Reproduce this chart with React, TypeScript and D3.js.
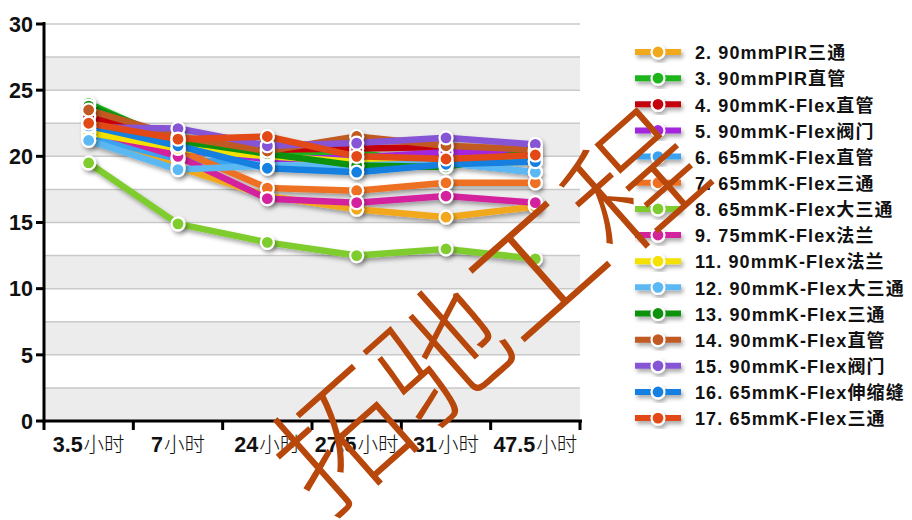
import React from "react";
import * as d3 from "d3";

const categories = ["3.5", "7", "24", "27.5", "31", "47.5"];
const seriesNames = [
  "2. 90mmPIR三通",
  "3. 90mmPIR直管",
  "4. 90mmK-Flex直管",
  "5. 90mmK-Flex阀门",
  "6. 65mmK-Flex直管",
  "7. 65mmK-Flex三通",
  "8. 65mmK-Flex大三通",
  "9. 75mmK-Flex法兰",
  "11. 90mmK-Flex法兰",
  "12. 90mmK-Flex大三通",
  "13. 90mmK-Flex三通",
  "14. 90mmK-Flex直管",
  "15. 90mmK-Flex阀门",
  "16. 65mmK-Flex伸缩缝",
  "17. 65mmK-Flex三通",
];
const seriesColors = [
  "#f2a81d", "#1fb51f", "#c4000e", "#a326de", "#3aa2f0",
  "#ee7020", "#7fcc2e", "#d4229e", "#f5e100", "#5cb8f2",
  "#119211", "#c05a20", "#8654d6", "#1380e0", "#e24a12",
];
const seriesValues: number[][] = [
  [21.5, 19.2, 17.0, 16.0, 15.4, 16.2],
  [24.0, 21.0, 20.0, 20.3, 19.3, 20.0],
  [23.0, 21.3, 20.5, 20.6, 20.7, 20.3],
  [22.0, 20.5, 19.8, 19.9, 20.3, 20.4],
  [21.5, 19.8, 19.3, 19.2, 19.5, 18.8],
  [22.5, 20.5, 17.6, 17.4, 18.0, 18.0],
  [19.5, 14.9, 13.5, 12.5, 13.0, 12.25],
  [22.0, 20.0, 16.8, 16.5, 17.0, 16.5],
  [21.8, 20.6, 20.0, 19.6, 19.5, 19.6],
  [21.2, 19.0, 19.3, 19.3, 19.5, 18.8],
  [23.8, 21.2, 20.2, 19.3, 19.2, 20.4],
  [23.5, 21.5, 20.4, 21.5, 20.8, 20.5],
  [22.2, 22.1, 20.8, 21.0, 21.4, 20.9],
  [22.3, 20.8, 19.1, 18.8, 19.4, 19.6],
  [22.5, 21.3, 21.5, 20.0, 19.8, 20.1],
];
const yTicks = [0, 5, 10, 15, 20, 25, 30];
const gridValues = [2.5, 5, 7.5, 10, 12.5, 15, 17.5, 20, 22.5, 25, 27.5, 30];
const xUnit = "小时";
const watermark = "拓驰工程";

const W = 912;
const H = 520;
const left = 44;
const right = 580;
const top = 24;
const bottom = 421;

const FONT = "'Liberation Sans', Arial, 'Noto Sans CJK SC', sans-serif";
const CJK = "'Noto Sans CJK SC', sans-serif";

export default function App() {
  const x = d3.scaleBand<string>().domain(categories).range([left, right]).paddingInner(0).paddingOuter(0);
  const y = d3.scaleLinear().domain([0, 30]).range([bottom, top]);
  const cx = (c: string) => (x(c) as number) + x.bandwidth() / 2;
  const line = d3
    .line<number>()
    .x((_, i) => cx(categories[i]))
    .y((v) => y(v));

  const bands: { y0: number; y1: number }[] = [];
  for (let v = 0; v < 30; v += 5) {
    bands.push({ y0: y(v + 2.5), y1: y(v) });
  }

  const legendX = 635;
  const legendY0 = 52;
  const legendDy = 26.15;

  return (
    <svg width={W} height={H} style={{ position: "absolute", left: 0, top: 0, background: "#fff" }}>
      <defs>
        <filter id="sh" x="-10%" y="-10%" width="130%" height="140%">
          <feDropShadow dx="2" dy="3" stdDeviation="2" floodColor="#000" floodOpacity="0.35" />
        </filter>
      </defs>
      <rect x={0} y={0} width={W} height={H} fill="#fff" />
      {bands.map((b, i) => (
        <rect key={i} x={left} y={b.y0} width={right - left} height={b.y1 - b.y0} fill="#ececec" />
      ))}
      {gridValues.map((v) => (
        <line key={v} x1={left} x2={right} y1={y(v)} y2={y(v)} stroke="#c9c9c9" strokeWidth={1.5} />
      ))}

      {/* lines */}
      <g filter="url(#sh)">
        {seriesValues.map((vals, si) => (
          <path
            key={si}
            d={line(vals) as string}
            fill="none"
            stroke={seriesColors[si]}
            strokeWidth={6.5}
            strokeLinejoin="round"
            strokeLinecap="round"
          />
        ))}
      </g>
      <g filter="url(#sh)">
        {seriesValues.map((vals, si) =>
          vals.map((v, i) => (
            <circle
              key={si + "-" + i}
              cx={cx(categories[i])}
              cy={y(v)}
              r={6.5}
              fill={seriesColors[si]}
              stroke="#fff"
              strokeWidth={2.2}
            />
          ))
        )}
      </g>

      {/* axes */}
      <line x1={left} x2={left} y1={top - 2} y2={bottom + 1.5} stroke="#000" strokeWidth={3} />
      <line x1={left - 1.5} x2={right + 2} y1={bottom} y2={bottom} stroke="#000" strokeWidth={3} />
      {yTicks.map((t) => (
        <g key={t}>
          <line x1={left - 8} x2={left} y1={y(t)} y2={y(t)} stroke="#000" strokeWidth={3} />
          <text
            x={left - 11}
            y={y(t)}
            dy="0.36em"
            textAnchor="end"
            fontFamily={FONT}
            fontWeight="bold"
            fontSize={21.5}
            fill="#111"
          >
            {t}
          </text>
        </g>
      ))}
      {d3.range(categories.length + 1).map((i) => {
        const xx = left + i * x.bandwidth();
        return <line key={i} x1={xx} x2={xx} y1={bottom} y2={bottom + 9} stroke="#000" strokeWidth={3} />;
      })}
      {categories.map((c) => (
        <text key={c} x={cx(c)} y={452} textAnchor="middle" fontFamily={FONT} fontSize={21.5} fill="#111">
          <tspan fontWeight="bold">{c}</tspan>
          <tspan fontFamily={CJK} fontWeight={300} fontSize={20.5} dx={1}>{xUnit}</tspan>
        </text>
      ))}

      {/* legend */}
      {seriesNames.map((n, i) => {
        const ly = legendY0 + i * legendDy;
        return (
          <g key={n}>
            <g filter="url(#sh)">
              <line x1={legendX} x2={legendX + 46} y1={ly} y2={ly} stroke={seriesColors[i]} strokeWidth={6} />
              <circle cx={legendX + 23} cy={ly} r={6.5} fill={seriesColors[i]} stroke="#fff" strokeWidth={2.2} />
            </g>
            <text
              x={legendX + 60}
              y={ly}
              dy="0.4em"
              fontFamily={FONT}
              fontWeight="bold"
              fontSize={18}
              letterSpacing={1.1}
              fill="#111"
            >
              {n}
            </text>
          </g>
        );
      })}

      {/* watermark */}
      <text
        x={0}
        y={0}
        transform="translate(482,305) rotate(-41.5)"
        textAnchor="middle"
        dominantBaseline="central"
        fontFamily={CJK}
        fontWeight={200}
        fontSize={130}
        fill="#b8470c"
      >
        {watermark}
      </text>
    </svg>
  );
}
